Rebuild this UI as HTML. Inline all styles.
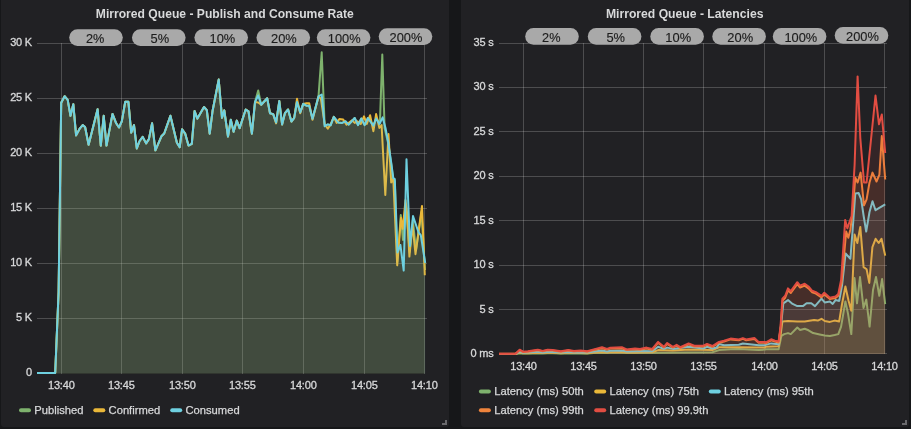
<!DOCTYPE html>
<html lang="en">
<head>
<meta charset="utf-8">
<title>Mirrored Queue dashboard</title>
<style>
html,body{margin:0;padding:0;background:#161719;}
body{width:911px;height:429px;overflow:hidden;position:relative;font-family:"Liberation Sans",Arial,sans-serif;}
.panel{position:absolute;top:-4px;height:431px;width:448px;background:#212124;border-radius:3px;}
#p1{left:1px;}
#p2{left:461px;}
svg{position:absolute;left:0;top:0;will-change:transform;}
text{font-family:"Liberation Sans",Arial,sans-serif;}
.title{font-size:13.4px;font-weight:bold;fill:#d8d9da;text-anchor:middle;}
.tick{font-size:11px;letter-spacing:-0.2px;fill:#d8d9da;stroke:#d8d9da;stroke-width:0.3px;}
.yt{text-anchor:end;}
.xt{text-anchor:middle;}
.leg{font-size:11.2px;fill:#d8d9da;stroke:#d8d9da;stroke-width:0.25px;}
.pill{fill:#a9a9a9;}
.pt{font-size:13.5px;fill:#1c1c1c;stroke:#1c1c1c;stroke-width:0.15px;text-anchor:middle;}
</style>
</head>
<body>
<div class="panel" id="p1"></div>
<div class="panel" id="p2"></div>
<svg width="911" height="429" viewBox="0 0 911 429">
<defs>
<clipPath id="cl"><rect x="36" y="40" width="392" height="334.2"/></clipPath>
<clipPath id="cr"><rect x="498" y="40" width="390" height="315"/></clipPath>
</defs>
<text class="title" x="224.8" y="17.9" textLength="258" lengthAdjust="spacingAndGlyphs">Mirrored Queue - Publish and Consume Rate</text>
<text class="title" x="684.7" y="17.9" textLength="157.6" lengthAdjust="spacingAndGlyphs">Mirrored Queue - Latencies</text>
<g stroke="#ffffff" stroke-opacity="0.2" stroke-width="1" shape-rendering="crispEdges">
<line x1="37.0" y1="43.5" x2="427.0" y2="43.5"/>
<line x1="37.0" y1="98.5" x2="427.0" y2="98.5"/>
<line x1="37.0" y1="153.5" x2="427.0" y2="153.5"/>
<line x1="37.0" y1="208.5" x2="427.0" y2="208.5"/>
<line x1="37.0" y1="263.5" x2="427.0" y2="263.5"/>
<line x1="37.0" y1="318.5" x2="427.0" y2="318.5"/>
<line x1="61.5" y1="43.0" x2="61.5" y2="374.0"/>
<line x1="121.5" y1="43.0" x2="121.5" y2="374.0"/>
<line x1="182.5" y1="43.0" x2="182.5" y2="374.0"/>
<line x1="242.5" y1="43.0" x2="242.5" y2="374.0"/>
<line x1="303.5" y1="43.0" x2="303.5" y2="374.0"/>
<line x1="364.5" y1="43.0" x2="364.5" y2="374.0"/>
<line x1="424.5" y1="43.0" x2="424.5" y2="374.0"/>
<line x1="499.0" y1="43.5" x2="887.0" y2="43.5"/>
<line x1="499.0" y1="87.5" x2="887.0" y2="87.5"/>
<line x1="499.0" y1="131.5" x2="887.0" y2="131.5"/>
<line x1="499.0" y1="176.5" x2="887.0" y2="176.5"/>
<line x1="499.0" y1="220.5" x2="887.0" y2="220.5"/>
<line x1="499.0" y1="265.5" x2="887.0" y2="265.5"/>
<line x1="499.0" y1="309.5" x2="887.0" y2="309.5"/>
<line x1="499.0" y1="353.5" x2="887.0" y2="353.5"/>
<line x1="523.5" y1="43.0" x2="523.5" y2="354.0"/>
<line x1="583.5" y1="43.0" x2="583.5" y2="354.0"/>
<line x1="643.5" y1="43.0" x2="643.5" y2="354.0"/>
<line x1="703.5" y1="43.0" x2="703.5" y2="354.0"/>
<line x1="764.5" y1="43.0" x2="764.5" y2="354.0"/>
<line x1="824.5" y1="43.0" x2="824.5" y2="354.0"/>
<line x1="884.5" y1="43.0" x2="884.5" y2="354.0"/>
</g>
<path d="M37.0 373.0 L55.2 373.0 L58.6 292.0 L61.2 102.7 L64.6 96.2 L67.7 99.9 L70.5 115.8 L73.3 104.2 L76.1 135.4 L79.9 128.3 L82.7 125.1 L85.1 127.0 L88.6 144.7 L97.6 109.3 L100.8 145.6 L103.7 115.8 L106.5 145.6 L112.5 113.9 L116.2 123.3 L119.0 127.5 L121.8 121.4 L125.2 101.8 L128.4 101.8 L131.2 132.6 L134.0 125.1 L136.8 148.4 L139.6 141.0 L142.7 136.9 L146.1 143.4 L148.9 139.1 L152.1 123.3 L155.4 150.3 L161.4 136.3 L164.2 133.5 L170.4 115.8 L176.9 142.8 L179.7 147.1 L182.1 129.2 L185.3 133.9 L188.5 145.6 L191.8 143.8 L194.6 111.1 L197.4 118.6 L204.0 107.0 L206.8 110.2 L209.7 133.7 L212.5 111.3 L218.7 79.6 L222.0 117.8 L224.3 110.4 L228.0 136.5 L230.8 119.7 L233.6 131.8 L236.8 120.6 L239.6 128.1 L245.7 109.5 L248.5 111.3 L251.9 133.7 L255.0 102.0 L258.2 90.4 L261.2 104.8 L267.2 98.3 L270.0 113.2 L273.2 114.1 L276.1 122.5 L279.3 101.1 L282.1 124.4 L284.9 113.2 L288.1 109.5 L291.4 121.6 L294.2 117.8 L297.0 102.0 L300.2 112.3 L303.2 103.9 L306.4 105.7 L309.2 105.7 L312.5 118.8 L318.5 96.4 L321.7 52.3 L324.7 126.2 L327.8 124.4 L330.6 125.3 L333.8 116.9 L338.2 122.4 L342.1 122.9 L345.4 121.3 L348.7 124.6 L354.7 118.0 L358.0 125.1 L361.3 118.5 L364.6 125.1 L367.9 118.0 L373.4 125.7 L376.1 118.5 L379.9 122.9 L382.3 54.6 L384.6 128.0 L388.1 143.0 L391.2 164.0 L393.3 180.0 L394.8 181.0 L397.3 262.0 L400.8 215.0 L403.0 240.0 L406.0 205.0 L409.6 252.0 L412.8 220.0 L416.0 250.0 L421.5 212.0 L425.0 270.0 L425.0 373.5 L37.0 373.5 Z" fill="#7eb26d" fill-opacity="0.1" stroke="none" clip-path="url(#cl)"/>
<path d="M37.0 373.0 L55.2 373.0 L58.6 292.0 L61.2 102.7 L64.6 96.2 L67.7 99.9 L70.5 115.8 L73.3 104.2 L76.1 135.4 L79.9 128.3 L82.7 125.1 L85.1 127.0 L88.6 144.7 L97.6 109.3 L100.8 145.6 L103.7 115.8 L106.5 145.6 L112.5 113.9 L116.2 123.3 L119.0 127.5 L121.8 121.4 L125.2 101.8 L128.4 101.8 L131.2 132.6 L134.0 125.1 L136.8 148.4 L139.6 141.0 L142.7 136.9 L146.1 143.4 L148.9 139.1 L152.1 123.3 L155.4 150.3 L161.4 136.3 L164.2 133.5 L170.4 115.8 L176.9 142.8 L179.7 147.1 L182.1 129.2 L185.3 133.9 L188.5 145.6 L191.8 143.8 L194.6 111.1 L197.4 118.6 L204.0 107.0 L206.8 110.2 L209.7 133.7 L212.5 111.3 L218.7 79.6 L222.0 117.8 L224.3 110.4 L228.0 136.5 L230.8 119.7 L233.6 131.8 L236.8 120.6 L239.6 128.1 L245.7 109.5 L248.5 111.3 L251.9 133.7 L255.0 102.0 L258.2 90.4 L261.2 104.8 L267.2 98.3 L270.0 113.2 L273.2 114.1 L276.1 122.5 L279.3 101.1 L282.1 124.4 L284.9 113.2 L288.1 109.5 L291.4 121.6 L294.2 117.8 L297.0 102.0 L300.2 112.3 L303.2 103.9 L306.4 105.7 L309.2 105.7 L312.5 118.8 L318.5 96.4 L321.7 52.3 L324.7 126.2 L327.8 124.4 L330.6 125.3 L333.8 116.9 L338.2 122.4 L342.1 122.9 L345.4 121.3 L348.7 124.6 L354.7 118.0 L358.0 125.1 L361.3 118.5 L364.6 125.1 L367.9 118.0 L373.4 125.7 L376.1 118.5 L379.9 122.9 L382.3 54.6 L384.6 128.0 L388.1 143.0 L391.2 164.0 L393.3 180.0 L394.8 181.0 L397.3 262.0 L400.8 215.0 L403.0 240.0 L406.0 205.0 L409.6 252.0 L412.8 220.0 L416.0 250.0 L421.5 212.0 L425.0 270.0" fill="none" stroke="#7eb26d" stroke-width="2" stroke-linejoin="round" clip-path="url(#cl)"/>
<path d="M37.0 373.0 L55.2 373.0 L58.6 292.0 L61.2 102.7 L64.6 96.2 L67.7 99.9 L70.5 115.8 L73.3 104.2 L76.1 135.4 L79.9 128.3 L82.7 125.1 L85.1 127.0 L88.6 144.7 L97.6 109.3 L100.8 145.6 L103.7 115.8 L106.5 145.6 L112.5 113.9 L116.2 123.3 L119.0 127.5 L121.8 121.4 L125.2 101.8 L128.4 101.8 L131.2 132.6 L134.0 125.1 L136.8 148.4 L139.6 141.0 L142.7 136.9 L146.1 143.4 L148.9 139.1 L152.1 123.3 L155.4 150.3 L161.4 136.3 L164.2 133.5 L170.4 115.8 L176.9 142.8 L179.7 147.1 L182.1 129.2 L185.3 133.9 L188.5 145.6 L191.8 143.8 L194.6 111.1 L197.4 118.6 L204.0 107.0 L206.8 110.2 L209.7 133.7 L212.5 111.3 L218.7 79.6 L222.0 117.8 L224.3 110.4 L228.0 136.5 L230.8 119.7 L233.6 131.8 L236.8 120.6 L239.6 128.1 L245.7 109.5 L248.5 111.3 L251.9 133.7 L255.0 102.0 L258.2 102.5 L261.2 104.8 L267.2 98.3 L270.0 113.2 L273.2 114.1 L276.1 123.4 L279.3 101.1 L282.1 124.4 L284.9 113.2 L288.1 109.5 L291.4 121.6 L294.2 117.8 L297.0 98.8 L300.2 113.2 L303.2 103.9 L306.4 103.3 L309.2 103.3 L312.5 119.7 L318.5 96.4 L320.9 98.8 L324.7 124.4 L327.8 128.7 L330.6 124.4 L333.8 116.9 L336.6 122.9 L339.3 119.1 L343.2 119.6 L346.5 124.6 L352.0 120.2 L354.7 122.9 L357.4 121.3 L360.7 124.0 L364.0 116.3 L366.8 124.0 L370.1 115.2 L373.4 131.2 L376.1 114.1 L379.4 127.9 L381.6 125.1 L385.3 195.0 L388.5 134.0 L391.2 182.4 L393.3 179.0 L397.2 265.3 L401.0 217.7 L402.7 228.8 L405.5 200.0 L407.0 212.0 L409.4 256.6 L412.5 225.0 L415.5 254.2 L422.0 206.0 L424.8 275.2 L424.8 373.5 L37.0 373.5 Z" fill="#eab839" fill-opacity="0.1" stroke="none" clip-path="url(#cl)"/>
<path d="M37.0 373.0 L55.2 373.0 L58.6 292.0 L61.2 102.7 L64.6 96.2 L67.7 99.9 L70.5 115.8 L73.3 104.2 L76.1 135.4 L79.9 128.3 L82.7 125.1 L85.1 127.0 L88.6 144.7 L97.6 109.3 L100.8 145.6 L103.7 115.8 L106.5 145.6 L112.5 113.9 L116.2 123.3 L119.0 127.5 L121.8 121.4 L125.2 101.8 L128.4 101.8 L131.2 132.6 L134.0 125.1 L136.8 148.4 L139.6 141.0 L142.7 136.9 L146.1 143.4 L148.9 139.1 L152.1 123.3 L155.4 150.3 L161.4 136.3 L164.2 133.5 L170.4 115.8 L176.9 142.8 L179.7 147.1 L182.1 129.2 L185.3 133.9 L188.5 145.6 L191.8 143.8 L194.6 111.1 L197.4 118.6 L204.0 107.0 L206.8 110.2 L209.7 133.7 L212.5 111.3 L218.7 79.6 L222.0 117.8 L224.3 110.4 L228.0 136.5 L230.8 119.7 L233.6 131.8 L236.8 120.6 L239.6 128.1 L245.7 109.5 L248.5 111.3 L251.9 133.7 L255.0 102.0 L258.2 102.5 L261.2 104.8 L267.2 98.3 L270.0 113.2 L273.2 114.1 L276.1 123.4 L279.3 101.1 L282.1 124.4 L284.9 113.2 L288.1 109.5 L291.4 121.6 L294.2 117.8 L297.0 98.8 L300.2 113.2 L303.2 103.9 L306.4 103.3 L309.2 103.3 L312.5 119.7 L318.5 96.4 L320.9 98.8 L324.7 124.4 L327.8 128.7 L330.6 124.4 L333.8 116.9 L336.6 122.9 L339.3 119.1 L343.2 119.6 L346.5 124.6 L352.0 120.2 L354.7 122.9 L357.4 121.3 L360.7 124.0 L364.0 116.3 L366.8 124.0 L370.1 115.2 L373.4 131.2 L376.1 114.1 L379.4 127.9 L381.6 125.1 L385.3 195.0 L388.5 134.0 L391.2 182.4 L393.3 179.0 L397.2 265.3 L401.0 217.7 L402.7 228.8 L405.5 200.0 L407.0 212.0 L409.4 256.6 L412.5 225.0 L415.5 254.2 L422.0 206.0 L424.8 275.2" fill="none" stroke="#eab839" stroke-width="2" stroke-linejoin="round" clip-path="url(#cl)"/>
<path d="M37.0 373.0 L55.2 373.0 L58.6 292.0 L61.2 102.7 L64.6 96.2 L67.7 99.9 L70.5 115.8 L73.3 104.2 L76.1 135.4 L79.9 128.3 L82.7 125.1 L85.1 127.0 L88.6 144.7 L97.6 109.3 L100.8 145.6 L103.7 115.8 L106.5 145.6 L112.5 113.9 L116.2 123.3 L119.0 127.5 L121.8 121.4 L125.2 101.8 L128.4 101.8 L131.2 132.6 L134.0 125.1 L136.8 148.4 L139.6 141.0 L142.7 136.9 L146.1 143.4 L148.9 139.1 L152.1 123.3 L155.4 150.3 L161.4 136.3 L164.2 133.5 L170.4 115.8 L176.9 142.8 L179.7 147.1 L182.1 129.2 L185.3 133.9 L188.5 145.6 L191.8 143.8 L194.6 111.1 L197.4 118.6 L204.0 107.0 L206.8 110.2 L209.7 133.7 L212.5 111.3 L218.7 79.6 L222.0 117.8 L224.3 110.4 L228.0 136.5 L230.8 119.7 L233.6 131.8 L236.8 120.6 L239.6 128.1 L245.7 109.5 L248.5 111.3 L251.9 133.7 L255.0 102.0 L258.2 95.5 L261.2 104.8 L267.2 98.3 L270.0 113.2 L273.2 114.1 L276.1 122.5 L279.3 101.1 L282.1 124.4 L284.9 113.2 L288.1 109.5 L291.4 121.6 L294.2 117.8 L297.0 102.0 L300.2 112.3 L303.2 103.9 L306.4 105.7 L309.2 105.7 L312.5 118.8 L318.5 96.4 L321.7 94.5 L324.7 126.2 L327.8 124.4 L330.6 125.3 L333.8 116.9 L338.2 122.4 L342.1 122.9 L345.4 121.3 L348.7 124.6 L354.7 118.0 L358.0 125.1 L361.3 118.5 L364.6 125.1 L367.9 118.0 L373.4 125.7 L376.1 118.5 L379.4 124.0 L382.7 117.4 L385.5 128.0 L388.1 141.5 L391.2 162.4 L393.3 178.2 L394.8 179.2 L397.5 252.5 L400.4 245.0 L403.7 270.5 L406.5 159.3 L410.0 246.0 L413.0 216.0 L418.5 232.3 L420.8 235.2 L425.2 263.0 L425.2 373.5 L37.0 373.5 Z" fill="#6ed0e0" fill-opacity="0.1" stroke="none" clip-path="url(#cl)"/>
<path d="M37.0 373.0 L55.2 373.0 L58.6 292.0 L61.2 102.7 L64.6 96.2 L67.7 99.9 L70.5 115.8 L73.3 104.2 L76.1 135.4 L79.9 128.3 L82.7 125.1 L85.1 127.0 L88.6 144.7 L97.6 109.3 L100.8 145.6 L103.7 115.8 L106.5 145.6 L112.5 113.9 L116.2 123.3 L119.0 127.5 L121.8 121.4 L125.2 101.8 L128.4 101.8 L131.2 132.6 L134.0 125.1 L136.8 148.4 L139.6 141.0 L142.7 136.9 L146.1 143.4 L148.9 139.1 L152.1 123.3 L155.4 150.3 L161.4 136.3 L164.2 133.5 L170.4 115.8 L176.9 142.8 L179.7 147.1 L182.1 129.2 L185.3 133.9 L188.5 145.6 L191.8 143.8 L194.6 111.1 L197.4 118.6 L204.0 107.0 L206.8 110.2 L209.7 133.7 L212.5 111.3 L218.7 79.6 L222.0 117.8 L224.3 110.4 L228.0 136.5 L230.8 119.7 L233.6 131.8 L236.8 120.6 L239.6 128.1 L245.7 109.5 L248.5 111.3 L251.9 133.7 L255.0 102.0 L258.2 95.5 L261.2 104.8 L267.2 98.3 L270.0 113.2 L273.2 114.1 L276.1 122.5 L279.3 101.1 L282.1 124.4 L284.9 113.2 L288.1 109.5 L291.4 121.6 L294.2 117.8 L297.0 102.0 L300.2 112.3 L303.2 103.9 L306.4 105.7 L309.2 105.7 L312.5 118.8 L318.5 96.4 L321.7 94.5 L324.7 126.2 L327.8 124.4 L330.6 125.3 L333.8 116.9 L338.2 122.4 L342.1 122.9 L345.4 121.3 L348.7 124.6 L354.7 118.0 L358.0 125.1 L361.3 118.5 L364.6 125.1 L367.9 118.0 L373.4 125.7 L376.1 118.5 L379.4 124.0 L382.7 117.4 L385.5 128.0 L388.1 141.5 L391.2 162.4 L393.3 178.2 L394.8 179.2 L397.5 252.5 L400.4 245.0 L403.7 270.5 L406.5 159.3 L410.0 246.0 L413.0 216.0 L418.5 232.3 L420.8 235.2 L425.2 263.0" fill="none" stroke="#6ed0e0" stroke-width="2" stroke-linejoin="round" clip-path="url(#cl)"/>
<path d="M499.1 353.9 L515.6 353.9 L519.7 353.2 L523.0 353.5 L527.9 353.5 L537.8 353.2 L542.7 353.4 L547.7 353.2 L552.6 353.2 L560.9 353.5 L568.3 353.2 L574.0 353.4 L580.6 353.3 L587.2 353.5 L593.8 353.1 L602.0 352.8 L607.0 353.0 L610.3 352.8 L621.8 352.8 L626.7 353.1 L635.0 353.0 L640.0 352.9 L712.4 352.2 L719.0 350.1 L730.6 349.3 L738.8 348.9 L758.6 350.1 L765.1 349.6 L765.6 349.3 L778.6 349.3 L781.4 335.9 L784.2 334.1 L788.0 333.1 L790.8 334.1 L797.3 327.5 L800.1 330.0 L804.7 328.8 L808.5 330.3 L813.1 333.1 L819.7 334.4 L824.7 335.4 L829.9 335.9 L834.6 335.0 L838.3 334.1 L841.1 326.6 L845.4 301.4 L848.0 313.6 L851.3 334.1 L854.5 278.0 L857.0 303.3 L860.0 277.0 L863.5 308.0 L866.3 299.6 L869.6 326.6 L873.0 290.0 L876.0 277.0 L879.3 295.8 L882.1 279.0 L885.2 304.2 L885.2 353.9 L499.1 353.9 Z" fill="#7eb26d" fill-opacity="0.1" stroke="none" clip-path="url(#cr)"/>
<path d="M499.1 353.9 L515.6 353.9 L519.7 353.2 L523.0 353.5 L527.9 353.5 L537.8 353.2 L542.7 353.4 L547.7 353.2 L552.6 353.2 L560.9 353.5 L568.3 353.2 L574.0 353.4 L580.6 353.3 L587.2 353.5 L593.8 353.1 L602.0 352.8 L607.0 353.0 L610.3 352.8 L621.8 352.8 L626.7 353.1 L635.0 353.0 L640.0 352.9 L712.4 352.2 L719.0 350.1 L730.6 349.3 L738.8 348.9 L758.6 350.1 L765.1 349.6 L765.6 349.3 L778.6 349.3 L781.4 335.9 L784.2 334.1 L788.0 333.1 L790.8 334.1 L797.3 327.5 L800.1 330.0 L804.7 328.8 L808.5 330.3 L813.1 333.1 L819.7 334.4 L824.7 335.4 L829.9 335.9 L834.6 335.0 L838.3 334.1 L841.1 326.6 L845.4 301.4 L848.0 313.6 L851.3 334.1 L854.5 278.0 L857.0 303.3 L860.0 277.0 L863.5 308.0 L866.3 299.6 L869.6 326.6 L873.0 290.0 L876.0 277.0 L879.3 295.8 L882.1 279.0 L885.2 304.2" fill="none" stroke="#7eb26d" stroke-width="2" stroke-linejoin="round" clip-path="url(#cr)"/>
<path d="M499.1 353.9 L515.6 353.9 L519.7 352.7 L523.0 353.3 L527.9 353.2 L537.8 352.7 L542.7 353.0 L547.7 352.7 L552.6 352.8 L560.9 353.2 L568.3 352.8 L574.0 353.1 L580.6 353.0 L587.2 353.2 L593.8 352.6 L602.0 352.0 L607.0 352.5 L610.3 352.2 L621.8 352.0 L626.7 352.6 L635.0 352.4 L640.0 352.2 L652.3 352.2 L658.1 350.1 L672.9 350.6 L688.6 349.6 L712.4 350.1 L719.0 347.3 L738.8 347.3 L758.6 347.6 L765.1 347.6 L765.6 346.7 L778.6 346.2 L780.5 335.9 L782.4 321.4 L788.0 321.0 L797.3 321.4 L804.7 321.4 L814.1 320.1 L817.8 320.6 L821.5 318.8 L824.7 321.0 L829.9 321.9 L834.6 320.6 L839.2 321.4 L842.0 304.2 L845.4 286.5 L848.5 300.5 L851.3 310.8 L854.6 234.6 L857.3 243.0 L860.3 226.9 L863.6 267.1 L866.6 269.2 L869.3 282.9 L872.4 247.2 L875.6 238.8 L878.7 243.0 L881.5 238.8 L885.2 255.6 L885.2 353.9 L499.1 353.9 Z" fill="#eab839" fill-opacity="0.1" stroke="none" clip-path="url(#cr)"/>
<path d="M499.1 353.9 L515.6 353.9 L519.7 352.7 L523.0 353.3 L527.9 353.2 L537.8 352.7 L542.7 353.0 L547.7 352.7 L552.6 352.8 L560.9 353.2 L568.3 352.8 L574.0 353.1 L580.6 353.0 L587.2 353.2 L593.8 352.6 L602.0 352.0 L607.0 352.5 L610.3 352.2 L621.8 352.0 L626.7 352.6 L635.0 352.4 L640.0 352.2 L652.3 352.2 L658.1 350.1 L672.9 350.6 L688.6 349.6 L712.4 350.1 L719.0 347.3 L738.8 347.3 L758.6 347.6 L765.1 347.6 L765.6 346.7 L778.6 346.2 L780.5 335.9 L782.4 321.4 L788.0 321.0 L797.3 321.4 L804.7 321.4 L814.1 320.1 L817.8 320.6 L821.5 318.8 L824.7 321.0 L829.9 321.9 L834.6 320.6 L839.2 321.4 L842.0 304.2 L845.4 286.5 L848.5 300.5 L851.3 310.8 L854.6 234.6 L857.3 243.0 L860.3 226.9 L863.6 267.1 L866.6 269.2 L869.3 282.9 L872.4 247.2 L875.6 238.8 L878.7 243.0 L881.5 238.8 L885.2 255.6" fill="none" stroke="#eab839" stroke-width="2" stroke-linejoin="round" clip-path="url(#cr)"/>
<path d="M499.1 353.9 L515.6 353.9 L519.7 351.8 L523.0 352.8 L527.9 352.6 L537.8 351.8 L542.7 352.4 L547.7 351.8 L552.6 352.0 L560.9 352.6 L568.3 352.0 L574.0 352.5 L580.6 352.2 L587.2 352.6 L593.8 351.6 L602.0 350.6 L607.0 351.4 L610.3 350.8 L621.8 350.6 L626.7 351.6 L635.0 351.2 L640.0 350.9 L652.3 351.3 L658.1 346.8 L663.9 348.9 L667.2 347.6 L672.9 348.9 L688.6 346.8 L703.4 348.5 L707.0 346.8 L712.4 348.5 L716.6 347.6 L719.0 344.0 L724.0 345.2 L738.8 344.8 L742.9 343.5 L758.6 345.2 L765.1 345.2 L765.6 344.9 L771.2 343.4 L778.6 344.3 L780.9 326.6 L783.3 303.3 L788.0 300.1 L792.6 303.9 L797.3 306.1 L802.9 306.1 L806.6 303.3 L811.3 303.3 L815.0 306.1 L821.5 298.6 L824.7 302.4 L829.9 301.4 L832.7 303.9 L835.5 300.1 L839.2 300.9 L842.0 285.6 L845.6 253.5 L850.4 258.7 L853.0 225.0 L855.3 193.4 L858.6 193.0 L861.2 199.4 L863.5 215.0 L866.2 231.5 L869.5 212.0 L872.5 201.3 L875.5 210.2 L885.2 204.3 L885.2 353.9 L499.1 353.9 Z" fill="#6ed0e0" fill-opacity="0.1" stroke="none" clip-path="url(#cr)"/>
<path d="M499.1 353.9 L515.6 353.9 L519.7 351.8 L523.0 352.8 L527.9 352.6 L537.8 351.8 L542.7 352.4 L547.7 351.8 L552.6 352.0 L560.9 352.6 L568.3 352.0 L574.0 352.5 L580.6 352.2 L587.2 352.6 L593.8 351.6 L602.0 350.6 L607.0 351.4 L610.3 350.8 L621.8 350.6 L626.7 351.6 L635.0 351.2 L640.0 350.9 L652.3 351.3 L658.1 346.8 L663.9 348.9 L667.2 347.6 L672.9 348.9 L688.6 346.8 L703.4 348.5 L707.0 346.8 L712.4 348.5 L716.6 347.6 L719.0 344.0 L724.0 345.2 L738.8 344.8 L742.9 343.5 L758.6 345.2 L765.1 345.2 L765.6 344.9 L771.2 343.4 L778.6 344.3 L780.9 326.6 L783.3 303.3 L788.0 300.1 L792.6 303.9 L797.3 306.1 L802.9 306.1 L806.6 303.3 L811.3 303.3 L815.0 306.1 L821.5 298.6 L824.7 302.4 L829.9 301.4 L832.7 303.9 L835.5 300.1 L839.2 300.9 L842.0 285.6 L845.6 253.5 L850.4 258.7 L853.0 225.0 L855.3 193.4 L858.6 193.0 L861.2 199.4 L863.5 215.0 L866.2 231.5 L869.5 212.0 L872.5 201.3 L875.5 210.2 L885.2 204.3" fill="none" stroke="#6ed0e0" stroke-width="2" stroke-linejoin="round" clip-path="url(#cr)"/>
<path d="M499.1 353.8 L515.6 353.8 L519.7 350.3 L523.0 352.0 L527.9 351.7 L537.8 350.3 L542.7 351.3 L547.7 350.3 L552.6 350.6 L560.9 351.7 L568.3 350.6 L574.0 351.4 L580.6 351.0 L587.2 351.7 L593.8 350.0 L602.0 348.2 L607.0 349.6 L610.3 348.6 L621.8 348.2 L626.7 350.0 L635.0 349.3 L640.0 349.8 L646.6 348.5 L652.3 349.8 L658.1 342.7 L663.9 347.6 L667.2 343.8 L672.9 347.6 L676.6 345.7 L680.3 348.0 L688.6 344.3 L694.3 346.5 L703.4 346.5 L707.0 344.8 L712.4 346.8 L719.0 342.7 L724.0 341.5 L730.6 339.4 L738.8 340.2 L742.9 338.9 L746.2 340.2 L754.4 338.9 L758.6 342.7 L765.1 342.7 L765.6 343.4 L771.2 340.4 L774.9 341.5 L778.6 342.5 L780.7 327.5 L782.6 300.5 L785.2 297.7 L788.0 290.3 L790.8 293.0 L797.3 284.1 L800.1 287.5 L804.7 285.6 L808.5 288.4 L812.2 292.3 L815.9 293.6 L821.5 297.3 L824.3 294.4 L829.9 299.0 L835.5 297.9 L838.3 295.7 L841.6 283.0 L846.2 231.5 L848.3 237.8 L850.4 229.4 L852.5 212.6 L855.3 177.6 L857.6 182.5 L860.6 172.6 L864.0 205.3 L866.6 199.3 L869.5 182.5 L872.5 172.6 L876.5 181.5 L879.4 174.6 L881.8 136.0 L885.2 179.5 L885.2 353.9 L499.1 353.9 Z" fill="#ef843c" fill-opacity="0.1" stroke="none" clip-path="url(#cr)"/>
<path d="M499.1 353.8 L515.6 353.8 L519.7 350.3 L523.0 352.0 L527.9 351.7 L537.8 350.3 L542.7 351.3 L547.7 350.3 L552.6 350.6 L560.9 351.7 L568.3 350.6 L574.0 351.4 L580.6 351.0 L587.2 351.7 L593.8 350.0 L602.0 348.2 L607.0 349.6 L610.3 348.6 L621.8 348.2 L626.7 350.0 L635.0 349.3 L640.0 349.8 L646.6 348.5 L652.3 349.8 L658.1 342.7 L663.9 347.6 L667.2 343.8 L672.9 347.6 L676.6 345.7 L680.3 348.0 L688.6 344.3 L694.3 346.5 L703.4 346.5 L707.0 344.8 L712.4 346.8 L719.0 342.7 L724.0 341.5 L730.6 339.4 L738.8 340.2 L742.9 338.9 L746.2 340.2 L754.4 338.9 L758.6 342.7 L765.1 342.7 L765.6 343.4 L771.2 340.4 L774.9 341.5 L778.6 342.5 L780.7 327.5 L782.6 300.5 L785.2 297.7 L788.0 290.3 L790.8 293.0 L797.3 284.1 L800.1 287.5 L804.7 285.6 L808.5 288.4 L812.2 292.3 L815.9 293.6 L821.5 297.3 L824.3 294.4 L829.9 299.0 L835.5 297.9 L838.3 295.7 L841.6 283.0 L846.2 231.5 L848.3 237.8 L850.4 229.4 L852.5 212.6 L855.3 177.6 L857.6 182.5 L860.6 172.6 L864.0 205.3 L866.6 199.3 L869.5 182.5 L872.5 172.6 L876.5 181.5 L879.4 174.6 L881.8 136.0 L885.2 179.5" fill="none" stroke="#ef843c" stroke-width="2" stroke-linejoin="round" clip-path="url(#cr)"/>
<path d="M499.1 353.8 L515.6 353.8 L519.7 349.7 L523.0 351.7 L527.9 351.3 L537.8 349.7 L542.7 350.9 L547.7 349.7 L552.6 350.0 L560.9 351.3 L568.3 350.0 L574.0 351.0 L580.6 350.5 L587.2 351.3 L593.8 349.4 L602.0 347.2 L607.0 348.9 L610.3 347.7 L621.8 347.2 L626.7 349.4 L635.0 348.5 L640.0 348.9 L646.6 347.6 L652.3 348.9 L658.1 341.9 L663.9 346.8 L667.2 343.0 L672.9 346.8 L676.6 344.8 L680.3 347.1 L688.6 343.5 L694.3 345.7 L703.4 345.7 L707.0 344.0 L712.4 346.0 L719.0 341.9 L724.0 340.7 L730.6 338.6 L738.8 339.4 L742.9 338.1 L746.2 339.4 L754.4 338.1 L758.6 341.9 L765.1 341.9 L765.6 342.5 L771.2 339.3 L774.9 340.6 L778.6 341.5 L780.5 326.6 L782.4 298.6 L785.2 295.8 L788.0 288.4 L790.8 291.2 L797.3 282.2 L800.1 285.6 L804.7 283.7 L808.5 286.5 L812.2 290.8 L815.9 292.1 L821.5 295.8 L824.3 292.7 L829.9 297.7 L835.5 296.4 L838.3 294.0 L841.1 280.0 L845.2 219.9 L847.3 228.3 L849.5 222.0 L851.6 216.0 L854.6 165.0 L857.6 76.4 L860.3 138.0 L864.0 182.5 L866.6 182.5 L875.5 95.6 L879.0 124.3 L881.8 114.4 L885.2 153.0 L885.2 353.9 L499.1 353.9 Z" fill="#e24d42" fill-opacity="0.1" stroke="none" clip-path="url(#cr)"/>
<path d="M499.1 353.8 L515.6 353.8 L519.7 349.7 L523.0 351.7 L527.9 351.3 L537.8 349.7 L542.7 350.9 L547.7 349.7 L552.6 350.0 L560.9 351.3 L568.3 350.0 L574.0 351.0 L580.6 350.5 L587.2 351.3 L593.8 349.4 L602.0 347.2 L607.0 348.9 L610.3 347.7 L621.8 347.2 L626.7 349.4 L635.0 348.5 L640.0 348.9 L646.6 347.6 L652.3 348.9 L658.1 341.9 L663.9 346.8 L667.2 343.0 L672.9 346.8 L676.6 344.8 L680.3 347.1 L688.6 343.5 L694.3 345.7 L703.4 345.7 L707.0 344.0 L712.4 346.0 L719.0 341.9 L724.0 340.7 L730.6 338.6 L738.8 339.4 L742.9 338.1 L746.2 339.4 L754.4 338.1 L758.6 341.9 L765.1 341.9 L765.6 342.5 L771.2 339.3 L774.9 340.6 L778.6 341.5 L780.5 326.6 L782.4 298.6 L785.2 295.8 L788.0 288.4 L790.8 291.2 L797.3 282.2 L800.1 285.6 L804.7 283.7 L808.5 286.5 L812.2 290.8 L815.9 292.1 L821.5 295.8 L824.3 292.7 L829.9 297.7 L835.5 296.4 L838.3 294.0 L841.1 280.0 L845.2 219.9 L847.3 228.3 L849.5 222.0 L851.6 216.0 L854.6 165.0 L857.6 76.4 L860.3 138.0 L864.0 182.5 L866.6 182.5 L875.5 95.6 L879.0 124.3 L881.8 114.4 L885.2 153.0" fill="none" stroke="#e24d42" stroke-width="2" stroke-linejoin="round" clip-path="url(#cr)"/>
<text class="tick yt" x="32.0" y="46.2">30 K</text>
<text class="tick yt" x="32.0" y="101.2">25 K</text>
<text class="tick yt" x="32.0" y="156.2">20 K</text>
<text class="tick yt" x="32.0" y="211.2">15 K</text>
<text class="tick yt" x="32.0" y="266.2">10 K</text>
<text class="tick yt" x="32.0" y="321.2">5 K</text>
<text class="tick yt" x="32.0" y="375.7">0</text>
<text class="tick xt" x="61.3" y="389">13:40</text>
<text class="tick xt" x="121.3" y="389">13:45</text>
<text class="tick xt" x="182.3" y="389">13:50</text>
<text class="tick xt" x="242.3" y="389">13:55</text>
<text class="tick xt" x="303.3" y="389">14:00</text>
<text class="tick xt" x="364.3" y="389">14:05</text>
<text class="tick xt" x="424.3" y="389">14:10</text>
<text class="tick yt" x="493.6" y="46.2">35 s</text>
<text class="tick yt" x="493.6" y="89.7">30 s</text>
<text class="tick yt" x="493.6" y="135.2">25 s</text>
<text class="tick yt" x="493.6" y="179.3">20 s</text>
<text class="tick yt" x="493.6" y="223.6">15 s</text>
<text class="tick yt" x="493.6" y="267.8">10 s</text>
<text class="tick yt" x="493.6" y="313.3">5 s</text>
<text class="tick yt" x="493.6" y="356.9">0 ms</text>
<text class="tick xt" x="523.5" y="369.9">13:40</text>
<text class="tick xt" x="583.5" y="369.9">13:45</text>
<text class="tick xt" x="643.5" y="369.9">13:50</text>
<text class="tick xt" x="703.5" y="369.9">13:55</text>
<text class="tick xt" x="764.5" y="369.9">14:00</text>
<text class="tick xt" x="824.5" y="369.9">14:05</text>
<text class="tick xt" x="884.5" y="369.9">14:10</text>
<rect class="pill" x="69.2" y="29.3" width="53.6" height="16.6" rx="8.3" ry="8.3"/>
<text class="pt" x="95.2" y="42.9" textLength="18.4" lengthAdjust="spacingAndGlyphs">2%</text>
<rect class="pill" x="132.0" y="29.3" width="53.6" height="16.6" rx="8.3" ry="8.3"/>
<text class="pt" x="159.9" y="42.9" textLength="18.6" lengthAdjust="spacingAndGlyphs">5%</text>
<rect class="pill" x="194.4" y="29.3" width="53.6" height="16.6" rx="8.3" ry="8.3"/>
<text class="pt" x="222.4" y="42.9" textLength="25.8" lengthAdjust="spacingAndGlyphs">10%</text>
<rect class="pill" x="256.5" y="29.3" width="53.6" height="16.6" rx="8.3" ry="8.3"/>
<text class="pt" x="283.9" y="42.9" textLength="25.8" lengthAdjust="spacingAndGlyphs">20%</text>
<rect class="pill" x="316.8" y="29.3" width="53.6" height="16.6" rx="8.3" ry="8.3"/>
<text class="pt" x="344.2" y="42.9" textLength="32.8" lengthAdjust="spacingAndGlyphs">100%</text>
<rect class="pill" x="378.7" y="28.3" width="53.6" height="16.6" rx="8.3" ry="8.3"/>
<text class="pt" x="406.0" y="41.9" textLength="32.8" lengthAdjust="spacingAndGlyphs">200%</text>
<rect class="pill" x="525.2" y="28.1" width="53.6" height="16.6" rx="8.3" ry="8.3"/>
<text class="pt" x="551.3" y="41.7" textLength="18.4" lengthAdjust="spacingAndGlyphs">2%</text>
<rect class="pill" x="587.8" y="28.1" width="53.6" height="16.6" rx="8.3" ry="8.3"/>
<text class="pt" x="615.7" y="41.7" textLength="18.6" lengthAdjust="spacingAndGlyphs">5%</text>
<rect class="pill" x="650.3" y="28.1" width="53.6" height="16.6" rx="8.3" ry="8.3"/>
<text class="pt" x="678.2" y="41.7" textLength="25.8" lengthAdjust="spacingAndGlyphs">10%</text>
<rect class="pill" x="712.3" y="28.1" width="53.6" height="16.6" rx="8.3" ry="8.3"/>
<text class="pt" x="740.2" y="41.7" textLength="25.8" lengthAdjust="spacingAndGlyphs">20%</text>
<rect class="pill" x="772.8" y="28.1" width="53.6" height="16.6" rx="8.3" ry="8.3"/>
<text class="pt" x="800.8" y="41.7" textLength="32.8" lengthAdjust="spacingAndGlyphs">100%</text>
<rect class="pill" x="834.7" y="27.1" width="53.6" height="16.6" rx="8.3" ry="8.3"/>
<text class="pt" x="862.4" y="40.7" textLength="32.8" lengthAdjust="spacingAndGlyphs">200%</text>
<rect x="19.0" y="408.2" width="12" height="4" rx="2" ry="2" fill="#7eb26d"/>
<text class="leg" x="34.3" y="414.0">Published</text>
<rect x="93.3" y="408.2" width="12" height="4" rx="2" ry="2" fill="#eab839"/>
<text class="leg" x="108.6" y="414.0">Confirmed</text>
<rect x="170.2" y="408.2" width="12" height="4" rx="2" ry="2" fill="#6ed0e0"/>
<text class="leg" x="185.5" y="414.0">Consumed</text>
<rect x="478.9" y="389.5" width="12" height="4" rx="2" ry="2" fill="#7eb26d"/>
<text class="leg" x="494.2" y="395.3">Latency (ms) 50th</text>
<rect x="594.2" y="389.5" width="12" height="4" rx="2" ry="2" fill="#eab839"/>
<text class="leg" x="609.5" y="395.3">Latency (ms) 75th</text>
<rect x="708.8" y="389.5" width="12" height="4" rx="2" ry="2" fill="#6ed0e0"/>
<text class="leg" x="724.1" y="395.3">Latency (ms) 95th</text>
<rect x="478.9" y="408.2" width="12" height="4" rx="2" ry="2" fill="#ef843c"/>
<text class="leg" x="494.2" y="414.0">Latency (ms) 99th</text>
<rect x="594.2" y="408.2" width="12" height="4" rx="2" ry="2" fill="#e24d42"/>
<text class="leg" x="609.5" y="414.0">Latency (ms) 99.9th</text>
<path d="M442 423 h3 v-3 h2 v5 h-5 z" fill="#6a6a6d" shape-rendering="crispEdges"/>
<path d="M902 423 h3 v-3 h2 v5 h-5 z" fill="#6a6a6d" shape-rendering="crispEdges"/>
</svg>
</body>
</html>
